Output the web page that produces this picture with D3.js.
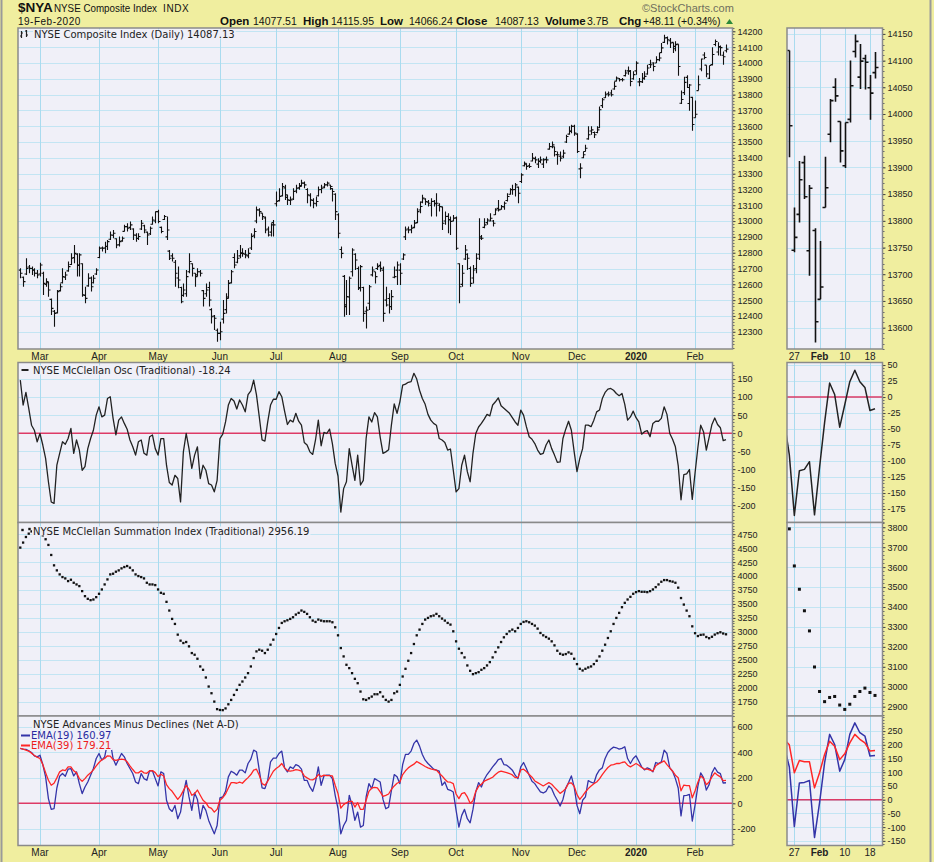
<!DOCTYPE html>
<html lang="en">
<head>
<meta charset="UTF-8">
<title>$NYA NYSE Composite Index</title>
<script src="https://d3js.org/d3.v7.min.js"></script>
<style>
    body { margin: 0; background: #f0ee9f; }
    svg { display: block; }
</style>
</head>
<body>
<svg id="chart" width="934" height="862"></svg>
<script>
// ---- data (20-Feb-2019 .. 19-Feb-2020) ----
var holidays = ['2019-04-19', '2019-05-27', '2019-07-04', '2019-09-02', '2019-11-28',
    '2019-12-25', '2020-01-01', '2020-01-20', '2020-02-17'];

var opens = [12690,12645,12665,12710,12700,12690,12670,12665,12670,12600,
    12610,12505,12430,12420,12560,12610,12645,12685,12725,12770,
    12790,12720,12730,12530,12590,12640,12610,12665,12770,12830,
    12830,12840,12885,12910,12888,12850,12875,12935,12965,12960,
    12950,12910,12890,12950,12970,12930,12920,12980,13000,13060,
    12960,13010,12900,12810,12780,12740,12640,12580,12530,12540,
    12680,12730,12670,12660,12680,12560,12540,12580,12440,12400,
    12310,12290,12380,12440,12520,12610,12770,12740,12780,12800,
    12790,12780,12830,12910,13000,13070,13050,13020,12950,12930,
    12990,13110,13130,13160,13210,13150,13130,13140,13190,13210,
    13225,13240,13200,13160,13130,13110,13160,13200,13215,13230,
    13228,13205,13170,13040,12820,12650,12470,12520,12680,12790,
    12700,12580,12580,12430,12480,12660,12680,12700,12720,12690,
    12500,12510,12460,12645,12690,12690,12760,12900,12950,12945,
    12960,12990,13070,13120,13140,13120,13100,13125,13110,13100,
    13090,13000,13030,13010,13000,13020,12730,12600,12760,12790,
    12700,12640,12700,12790,12900,12960,12990,13000,13000,13040,
    13080,13075,13090,13130,13170,13200,13200,13215,13250,13350,
    13360,13350,13380,13395,13360,13380,13360,13390,13455,13470,
    13470,13420,13410,13410,13500,13550,13570,13600,13550,13330,
    13400,13440,13520,13570,13560,13560,13590,13730,13780,13805,
    13810,13835,13885,13900,13895,13920,13950,13950,13900,13950,
    13880,13880,13900,13930,13990,14000,14000,14020,14065,14130,
    14160,14140,14130,14090,14119,13745,13812,13909,13744,13782,
    13653,13825,13962,14050,13986,13903,13990,14117,14069,14104,
    14049,14077.51];

var highs = [12701,12649,12765,12722,12712,12701,12691,12737,12680,12638,
    12617,12511,12437,12564,12606,12701,12680,12744,12796,12849,
    12796,12796,12733,12585,12670,12649,12659,12701,12839,12839,
    12870,12881,12934,12944,12891,12902,12902,12976,12986,12997,
    12955,12923,12923,13007,12976,12934,12965,13029,13060,13071,
    12965,13039,13029,12817,12796,12754,12712,12585,12606,12691,
    12796,12733,12670,12701,12691,12564,12606,12617,12448,12406,
    12321,12364,12501,12543,12627,12691,12796,12817,12849,12828,
    12817,12828,12923,12955,13092,13081,13050,13029,12965,12986,
    13007,13187,13208,13240,13229,13166,13155,13208,13229,13240,
    13261,13250,13208,13176,13145,13155,13219,13229,13240,13250,
    13229,13208,13176,13050,12839,12659,12627,12649,12828,12796,
    12712,12722,12585,12459,12596,12712,12680,12733,12744,12712,
    12585,12543,12564,12712,12744,12733,12796,12965,12965,12976,
    13007,13081,13124,13166,13145,13134,13145,13134,13176,13113,
    13092,13060,13050,13029,13039,13029,12733,12722,12849,12796,
    12712,12722,12796,13018,12912,13018,13018,13050,13007,13081,
    13134,13102,13124,13176,13208,13229,13240,13219,13303,13377,
    13366,13366,13430,13408,13398,13408,13398,13408,13493,13503,
    13472,13440,13440,13451,13546,13599,13609,13609,13556,13366,
    13440,13482,13599,13599,13567,13599,13725,13778,13820,13820,
    13831,13883,13915,13905,13905,13957,13978,13955,13947,14010,
    13905,13936,13947,13989,14021,14005,14042,14063,14126,14179,
    14168,14158,14130,14137,14119,13825,13912,13922,13867,13786,
    13762,13920,14028,14067,13986,13984,14100,14149,14131,14111,
    14073,14115.95];

var lows = [12638,12585,12659,12670,12659,12649,12638,12649,12533,12585,
    12522,12406,12332,12416,12554,12606,12627,12680,12722,12733,
    12649,12649,12522,12480,12585,12554,12606,12659,12765,12807,
    12796,12817,12881,12891,12828,12839,12870,12934,12934,12944,
    12881,12870,12881,12944,12923,12849,12912,12976,12986,12986,
    12923,13007,12881,12754,12744,12585,12575,12480,12522,12522,
    12670,12649,12585,12649,12649,12459,12522,12459,12353,12311,
    12237,12247,12353,12416,12511,12606,12701,12733,12765,12775,
    12765,12765,12817,12891,12986,13029,13007,12923,12902,12902,
    12902,13092,13124,13155,13134,13102,13102,13134,13176,13198,
    13219,13208,13113,13092,13081,13092,13155,13176,13208,13219,
    13198,13124,13007,12891,12765,12395,12406,12406,12649,12691,
    12564,12554,12364,12321,12437,12649,12606,12691,12680,12364,
    12459,12416,12437,12638,12596,12596,12754,12881,12923,12923,
    12955,12986,13050,13113,13102,13092,13029,13092,13029,13060,
    12944,12976,12923,12912,12997,12817,12480,12585,12754,12691,
    12585,12606,12670,12754,12881,12955,12976,12997,12965,13039,
    13060,13071,13071,13124,13166,13166,13155,13113,13240,13345,
    13324,13335,13377,13366,13335,13366,13335,13366,13451,13461,
    13408,13356,13377,13398,13493,13546,13556,13540,13430,13271,
    13398,13440,13514,13546,13525,13556,13588,13715,13778,13788,
    13788,13831,13883,13883,13883,13915,13926,13852,13894,13926,
    13852,13873,13894,13926,13968,13947,13999,14010,14063,14126,
    14116,14095,14063,14074,13919,13741,13797,13841,13697,13572,
    13653,13825,13947,14023,13909,13899,13984,14106,14047,14046,
    13989,14066.24];

var closes = [12670,12617,12701,12701,12691,12670,12659,12722,12606,12617,
    12564,12448,12416,12554,12585,12649,12659,12712,12765,12796,
    12722,12786,12533,12511,12638,12585,12638,12691,12828,12828,
    12839,12870,12912,12923,12849,12870,12891,12965,12955,12976,
    12912,12891,12902,12986,12944,12912,12955,13007,13060,12997,
    12934,13029,12944,12765,12765,12670,12627,12490,12564,12649,
    12744,12701,12649,12680,12670,12511,12564,12501,12395,12385,
    12290,12300,12416,12511,12606,12680,12722,12765,12796,12796,
    12786,12796,12902,12934,13071,13060,13029,12944,12912,12976,
    12976,13124,13155,13219,13166,13134,13134,13187,13208,13219,
    13240,13229,13166,13134,13113,13124,13198,13208,13229,13240,
    13219,13187,13060,12923,12796,12459,12522,12638,12817,12754,
    12575,12712,12416,12437,12585,12691,12649,12712,12701,12416,
    12469,12459,12522,12649,12722,12670,12786,12944,12944,12955,
    12986,13060,13092,13145,13124,13113,13124,13113,13113,13092,
    12986,13029,13007,12997,13018,12828,12585,12670,12817,12765,
    12606,12691,12765,12891,12891,12976,13007,13018,12986,13071,
    13071,13092,13113,13155,13198,13198,13229,13176,13292,13366,
    13345,13345,13398,13387,13377,13387,13387,13387,13472,13482,
    13440,13419,13398,13430,13535,13567,13599,13556,13440,13335,
    13419,13461,13546,13577,13546,13577,13704,13767,13799,13799,
    13799,13852,13905,13894,13894,13936,13947,13883,13926,13999,
    13883,13905,13915,13968,13989,13978,14021,14031,14095,14158,
    14147,14126,14105,14116,13978,13769,13877,13845,13861,13611,
    13676,13862,14025,14034,13931,13984,14053,14136,14099,14097,
    14039,14087.13];

var mcOsc = [147,78,113,69,22,8,-24,-1,-33,-70,
    -135,-191,-195,-89,-56,-24,-31,-15,13,-56,
    -19,-47,-103,-93,-43,-15,8,50,73,45,
    50,96,101,41,-5,36,45,27,11,-19,
    -38,-61,-24,-19,-56,-61,-10,-5,-43,-61,
    -15,-15,-89,-137,-144,-117,-126,-191,-52,-1,
    -43,-98,-61,-38,-126,-89,-103,-140,-144,-163,
    -131,-15,-3,31,78,96,89,67,92,78,
    59,107,117,147,106,45,-19,-22,31,78,
    94,94,115,101,61,24,36,31,55,33,
    22,-26,-33,-52,-59,-19,36,-35,2,-1,
    11,-29,-84,-119,-219,-154,-135,-43,-89,-131,
    -61,-144,-131,-15,45,31,57,45,-11,-56,
    -52,-46,23,81,55,87,133,136,141,143,
    166,150,119,96,80,52,36,27,22,-15,
    -19,-26,-47,-44,-103,-163,-154,-89,-61,-107,
    -135,-56,-1,17,27,39,52,48,78,87,
    98,76,69,62,55,43,31,22,64,50,
    18,-10,-17,-29,-47,-59,-56,-33,-19,-43,
    -61,-81,-80,-15,11,33,8,-52,-107,-70,
    -43,22,22,18,36,59,64,96,113,122,
    124,119,110,104,110,80,36,45,61,43,
    31,-3,4,7,-10,27,33,33,41,73,
    52,-1,-17,-38,-90,-185,-115,-113,-101,-184,
    -110,-40,22,4,-47,-12,24,42,24,15,
    -21,-18.24];

var mcSum = [4510,4600,4700,4760,4800,4820,4810,4780,4730,4660,
    4558,4378,4192,4102,4030,3982,3958,3910,3934,3880,
    3850,3820,3730,3640,3592,3568,3580,3622,3682,3760,
    3850,3940,4030,4042,4078,4102,4138,4162,4180,4150,
    4102,4030,4000,3982,3958,3880,3850,3850,3838,3760,
    3700,3682,3538,3382,3232,3142,2950,2842,2800,2818,
    2740,2620,2590,2518,2380,2320,2182,2020,1900,1750,
    1615,1600,1597,1628,1702,1780,1870,1960,2050,2110,
    2182,2260,2380,2530,2650,2680,2662,2620,2680,2770,
    2860,2962,3070,3160,3190,3208,3232,3262,3310,3340,
    3382,3358,3322,3262,3202,3178,3220,3202,3190,3190,
    3190,3172,3082,2938,2710,2560,2410,2350,2260,2158,
    2080,1930,1792,1780,1810,1840,1882,1882,1918,1840,
    1780,1750,1780,1900,1930,2050,2200,2338,2482,2620,
    2782,2938,3040,3142,3220,3250,3280,3292,3322,3280,
    3238,3202,3160,3130,3010,2830,2698,2620,2542,2398,
    2302,2242,2260,2278,2320,2350,2398,2458,2542,2638,
    2722,2818,2902,2962,3010,3040,3010,3070,3142,3178,
    3190,3172,3142,3112,3058,2980,2938,2908,2878,2830,
    2758,2662,2608,2590,2602,2632,2608,2518,2422,2338,
    2308,2338,2362,2380,2422,2482,2560,2662,2770,2890,
    3010,3142,3250,3340,3442,3520,3580,3628,3682,3712,
    3730,3718,3718,3712,3730,3760,3802,3850,3898,3928,
    3928,3910,3900,3880,3792,3606,3489,3381,3280,3099,
    2976,2925,2946,2951,2908,2886,2912,2951,2976,2993,
    2971,2956.19];

var ema19 = [429,423,421,410,397,371,363,376,303,207,
    37,-47,-42,120,212,233,212,267,272,214,
    246,154,76,128,167,220,272,350,389,337,
    363,468,481,350,298,345,389,363,311,272,
    233,167,154,233,193,180,256,254,193,136,
    246,233,24,-42,-63,-16,-120,-68,76,180,
    50,-55,81,31,-120,-16,-55,-133,-186,-238,
    -173,42,50,94,207,251,238,220,259,259,
    238,311,345,416,403,259,120,115,180,324,
    353,353,389,408,277,246,285,272,303,293,
    267,180,180,128,94,167,285,141,214,220,
    220,193,63,-42,-238,-173,-133,63,-16,-133,
    -68,-186,-173,50,154,115,193,180,167,31,
    -42,-29,102,225,207,154,303,382,382,408,
    468,494,447,382,337,311,290,267,259,251,
    141,167,110,102,89,-55,-186,-94,-47,-120,
    -152,-47,89,162,128,186,225,254,285,311,
    342,350,303,298,280,259,220,193,285,319,
    272,220,173,154,120,89,81,94,136,115,
    63,24,-21,31,120,162,214,128,-16,-81,
    24,50,178,165,157,225,261,277,350,397,
    423,439,434,423,429,442,350,311,350,371,
    329,285,261,277,267,246,319,311,324,416,
    389,277,251,193,120,-98,61,63,70,-138,
    -12,134,238,201,104,146,238,280,244,232,
    159,160.97];

var ema39 = [429,423,416,408,392,374,361,350,303,240,
    180,141,157,199,246,261,256,285,285,254,
    238,193,173,193,220,238,261,293,319,340,
    350,371,369,342,335,342,345,342,324,293,
    264,238,238,254,238,235,254,256,240,209,
    227,214,146,115,94,63,31,58,99,141,
    110,63,76,104,63,24,5,-29,-39,-68,
    -47,24,44,73,120,162,162,157,165,157,
    180,201,225,259,267,220,154,141,173,212,
    251,272,288,311,277,256,251,256,264,259,
    251,214,199,186,183,196,225,209,220,217,
    217,214,141,76,-37,-10,5,16,16,-29,
    5,-47,-47,24,94,120,125,120,89,55,
    63,73,110,136,157,167,225,254,277,293,
    306,327,314,301,288,277,269,264,259,235,
    214,188,167,165,154,73,37,76,84,50,
    0,21,94,133,149,173,183,193,204,225,
    243,251,246,240,233,222,201,201,261,267,
    248,225,204,175,162,149,136,149,162,149,
    125,102,78,94,115,157,160,133,68,31,
    58,89,115,136,154,167,191,225,254,280,
    298,303,311,311,319,324,298,285,298,311,
    298,280,267,267,259,251,293,308,319,332,
    303,277,251,220,200,98,143,138,138,43,
    98,165,213,195,146,167,207,238,220,207,
    177,179.21];

// axis tick labels
var priceTicks = [12300,12400,12500,12600,12700,12800,12900,13000,13100,13200,
    13300,13400,13500,13600,13700,13800,13900,14000,14100,14200];
var priceSideTicks = [13600,13650,13700,13750,13800,13850,13900,13950,14000,14050,14100,14150];
var oscTicks = [-200,-150,-100,-50,0,50,100,150];
var oscSideTicks = [-175,-150,-125,-100,-75,-50,-25,0,25,50];
var sumTicks = [1750,2000,2250,2500,2750,3000,3250,3500,3750,4000,4250,4500,4750];
var sumSideTicks = [2900,3000,3100,3200,3300,3400,3500,3600,3700,3800];
var adTicks = [-200,0,200,400,600];
var adSideTicks = [-150,-100,-50,0,50,100,150,200,250];
var sideTickDates = ['2020-01-27', '2020-02-03', '2020-02-10', '2020-02-18'];
var sideTickLabels = ['27', 'Feb', '10', '18'];

// ---- layout ----
var AXIS_FONT = 'Liberation Sans, Arial, sans-serif';
var TITLE_FONT = 'DejaVu Sans, Verdana, sans-serif';
var L = 18, R = 732.5, SL = 787, SR = 882.5;
var svg = d3.select('#chart');
var fmtKey = d3.timeFormat('%Y-%m-%d');

svg.append('rect').attr('width', 934).attr('height', 862).attr('fill', '#f0ee9f');

// trading days
var dates = [];
for (var d = new Date(2019, 1, 20); d <= new Date(2020, 1, 19); d.setDate(d.getDate() + 1)) {
    var dow = d.getDay();
    if (dow > 0 && dow < 6 && holidays.indexOf(fmtKey(d)) < 0) dates.push(new Date(d));
}
var n = closes.length;
var idx = d3.range(n);
var sideStart = dates.map(fmtKey).indexOf('2020-01-24');
var sideIdx = d3.range(sideStart, n);

var x = d3.scaleLinear().domain([0, n - 1]).range([20.3, 726]);
var xs = d3.scaleLinear().domain([sideStart, n - 1]).range([789.3, 875]);

var monthIdx = [];
for (var i = 1; i < n; i++) {
    if (dates[i].getMonth() !== dates[i - 1].getMonth()) monthIdx.push(i);
}
var sideTickIdx = sideTickDates.map(function (k) { return dates.map(fmtKey).indexOf(k); });

function px(v) { return Math.round(v) + 0.5; }

// one chart pane: background, grid, clip, right axis
function panel(x0, x1, y, grid, ticks, vlines, clipId) {
    var top = y.range()[1], bot = y.range()[0];
    var g = svg.append('g');
    g.append('rect').attr('x', x0).attr('y', top).attr('width', x1 - x0).attr('height', bot - top)
        .attr('fill', '#f0f0f8');
    g.append('g').selectAll('line').data(grid).join('line')
        .attr('x1', x0).attr('x2', x1)
        .attr('y1', function (v) { return px(y(v)); })
        .attr('y2', function (v) { return px(y(v)); })
        .attr('stroke', '#c3e5f3').attr('stroke-width', 1);
    g.append('g').selectAll('line').data(vlines).join('line')
        .attr('x1', px).attr('x2', px)
        .attr('y1', top).attr('y2', bot)
        .attr('stroke', '#a9dbef').attr('stroke-width', 1);
    svg.append('clipPath').attr('id', clipId).append('rect')
        .attr('x', x0).attr('y', top).attr('width', x1 - x0).attr('height', bot - top);
    var plot = g.append('g').attr('clip-path', 'url(#' + clipId + ')');

    // minor ticks on the right edge
    var step = (ticks[1] - ticks[0]) / 5;
    var dom = y.domain();
    var minor = d3.range(Math.ceil(dom[0] / step) * step, dom[1], step);
    g.append('g').selectAll('line').data(minor).join('line')
        .attr('x1', x1).attr('x2', x1 + 2)
        .attr('y1', function (v) { return px(y(v)); })
        .attr('y2', function (v) { return px(y(v)); })
        .attr('stroke', '#666');

    var ax = g.append('g').attr('transform', 'translate(' + x1 + ',0)')
        .call(d3.axisRight(y).tickValues(ticks).tickSize(3).tickPadding(2)
            .tickFormat(function (v) { return String(v); }));
    ax.select('.domain').remove();
    ax.selectAll('text').attr('font-family', AXIS_FONT).attr('font-size', 9).attr('fill', '#222');
    ax.selectAll('line').attr('stroke', '#444');

    return {
        g: g, plot: plot, frame: function () {
            g.append('rect').attr('x', x0).attr('y', top).attr('width', x1 - x0).attr('height', bot - top)
                .attr('fill', 'none').attr('stroke', '#8a8a8a').attr('stroke-width', 1.5);
        }
    };
}

function zeroLine(p, y, x0, x1) {
    p.plot.append('line').attr('x1', x0).attr('x2', x1)
        .attr('y1', y(0)).attr('y2', y(0))
        .attr('stroke', '#dd3a66').attr('stroke-width', 1.5);
}

function drawOHLC(p, ids, xf, y, tick, w) {
    p.plot.append('g').selectAll('path').data(ids).join('path')
        .attr('d', function (i) {
            var cx = Math.round(xf(i)) + 0.5;
            return 'M' + cx + ',' + y(highs[i]) + 'V' + y(lows[i]) +
                'M' + (cx - tick) + ',' + y(opens[i]) + 'H' + cx +
                'M' + cx + ',' + y(closes[i]) + 'H' + (cx + tick);
        })
        .attr('fill', 'none').attr('stroke', '#111').attr('stroke-width', w);
}

function drawLine(p, ids, xf, y, values, color, w) {
    p.plot.append('path').datum(ids)
        .attr('d', d3.line().x(function (i) { return xf(i); }).y(function (i) { return y(values[i]); }))
        .attr('fill', 'none').attr('stroke', color).attr('stroke-width', w)
        .attr('stroke-linejoin', 'round');
}

function drawDots(p, ids, xf, y, values, s) {
    p.plot.append('g').selectAll('rect').data(ids).join('rect')
        .attr('x', function (i) { return xf(i) - s / 2; })
        .attr('y', function (i) { return y(values[i]) - s / 2; })
        .attr('width', s).attr('height', s).attr('fill', '#111');
}

// title text with opaque backing like the original labels
function title(p, tx, ty, text, color, size) {
    var t = p.g.append('text').attr('x', tx).attr('y', ty)
        .attr('font-family', TITLE_FONT).attr('font-size', size || 10)
        .attr('fill', color || '#222').text(text);
    var b = t.node().getBBox();
    p.g.insert('rect', function () { return t.node(); })
        .attr('x', b.x - 1).attr('y', b.y + 1).attr('width', b.width + 2).attr('height', b.height - 2)
        .attr('fill', '#f0f0f8');
    return t;
}

var monthX = monthIdx.map(function (i) { return x(i); });
var sideX = sideTickIdx.map(function (i) { return xs(i); });

// ---- price ----
var yP = d3.scaleLinear().domain([12191, 14221]).range([349, 28]);
var yPs = d3.scaleLinear().domain([13560, 14161]).range([349, 28]);
var pP = panel(L, R, yP, priceTicks, priceTicks, monthX, 'cP');
drawOHLC(pP, idx, x, yP, 2, 1.1);
title(pP, 34, 37.5, 'NYSE Composite Index (Daily) 14087.13');
pP.g.append('path').attr('d', 'M21.5,31V38M20,36H21.5M21.5,33H23M26.5,30V37M25,31H26.5M26.5,35H28')
    .attr('stroke', '#222').attr('fill', 'none').attr('stroke-width', 1.2);
pP.frame();
var pPs = panel(SL, SR, yPs, priceSideTicks, priceSideTicks, sideX, 'cPs');
drawOHLC(pPs, sideIdx, xs, yPs, 3, 1.6);
pPs.frame();

// ---- McClellan oscillator ----
var yO = d3.scaleLinear().domain([-248, 196]).range([522.5, 362.5]);
var yOs = d3.scaleLinear().domain([-196, 54]).range([522.5, 362.5]);
var pO = panel(L, R, yO, oscTicks, oscTicks, monthX, 'cO');
zeroLine(pO, yO, L, R);
drawLine(pO, idx, x, yO, mcOsc, '#222', 1.3);
title(pO, 33, 373.5, 'NYSE McClellan Osc (Traditional) -18.24');
pO.g.append('line').attr('x1', 21.5).attr('x2', 28.5).attr('y1', 370).attr('y2', 370)
    .attr('stroke', '#222').attr('stroke-width', 2);
pO.frame();
var pOs = panel(SL, SR, yOs, oscSideTicks, oscSideTicks, sideX, 'cOs');
zeroLine(pOs, yOs, SL, SR);
drawLine(pOs, d3.range(sideStart - 1, n), xs, yOs, mcOsc, '#222', 1.5);
pOs.frame();

// ---- McClellan summation ----
var yS = d3.scaleLinear().domain([1492, 4960]).range([716, 522.5]);
var ySs = d3.scaleLinear().domain([2853, 3824]).range([716, 522.5]);
var pS = panel(L, R, yS, sumTicks, sumTicks, monthX, 'cS');
drawDots(pS, idx, x, yS, mcSum, 2.3);
title(pS, 33, 534.5, 'NYSE McClellan Summation Index (Traditional) 2956.19');
pS.g.selectAll('.lg').data([[22.5, 530], [29.5, 529]]).join('rect')
    .attr('x', function (p) { return p[0] - 1.2; }).attr('y', function (p) { return p[1] - 1.2; })
    .attr('width', 2.4).attr('height', 2.4).attr('fill', '#111');
pS.frame();
var pSs = panel(SL, SR, ySs, sumSideTicks, sumSideTicks, sideX, 'cSs');
drawDots(pSs, sideIdx, xs, ySs, mcSum, 3);
pSs.frame();

// ---- Net A-D with EMAs ----
var yA = d3.scaleLinear().domain([-329, 682]).range([845.5, 716]);
var yAs = d3.scaleLinear().domain([-167, 305]).range([845.5, 716]);
var pA = panel(L, R, yA, adTicks, adTicks, monthX, 'cA');
zeroLine(pA, yA, L, R);
drawLine(pA, idx, x, yA, ema19, '#3434a8', 1.3);
drawLine(pA, idx, x, yA, ema39, '#ff2626', 1.3);
title(pA, 33, 728, 'NYSE Advances Minus Declines (Net A-D)');
title(pA, 31, 739, 'EMA(19) 160.97', '#2a2aa0');
title(pA, 31, 749, 'EMA(39) 179.21', '#ee1c1c');
pA.g.append('line').attr('x1', 21).attr('x2', 30).attr('y1', 735.5).attr('y2', 735.5)
    .attr('stroke', '#3434a8').attr('stroke-width', 2);
pA.g.append('line').attr('x1', 21).attr('x2', 30).attr('y1', 745.5).attr('y2', 745.5)
    .attr('stroke', '#ff2626').attr('stroke-width', 2);
pA.frame();
var pAs = panel(SL, SR, yAs, adSideTicks, adSideTicks, sideX, 'cAs');
zeroLine(pAs, yAs, SL, SR);
drawLine(pAs, d3.range(sideStart - 1, n), xs, yAs, ema19, '#3434a8', 1.5);
drawLine(pAs, d3.range(sideStart - 1, n), xs, yAs, ema39, '#ff2626', 1.5);
pAs.frame();

// ---- date labels ----
function monthLabel(i) {
    return dates[i].getMonth() === 0 ? d3.timeFormat('%Y')(dates[i]) : d3.timeFormat('%b')(dates[i]);
}
[359.5, 856].forEach(function (by) {
    svg.append('g').selectAll('text').data(monthIdx).join('text')
        .attr('x', function (i) { return x(i); }).attr('y', by)
        .attr('text-anchor', 'middle').attr('font-family', AXIS_FONT).attr('font-size', 10)
        .attr('font-weight', function (i) { return dates[i].getMonth() === 0 ? 'bold' : 'normal'; })
        .attr('fill', '#222').text(monthLabel);
    svg.append('g').selectAll('text').data(sideTickIdx).join('text')
        .attr('x', function (i) { return xs(i); }).attr('y', by)
        .attr('text-anchor', 'middle').attr('font-family', AXIS_FONT).attr('font-size', 10)
        .attr('font-weight', function (i, k) { return sideTickLabels[k] === 'Feb' ? 'bold' : 'normal'; })
        .attr('fill', '#222').text(function (i, k) { return sideTickLabels[k]; });
});

// ---- header ----
var hdr = svg.append('g').attr('font-family', AXIS_FONT).attr('fill', '#111');
hdr.append('text').attr('x', 18).attr('y', 12).attr('font-size', 13.5).attr('font-weight', 'bold').text('$NYA');
hdr.append('text').attr('x', 54).attr('y', 11.5).attr('font-size', 10.5)
    .attr('textLength', 103).attr('lengthAdjust', 'spacingAndGlyphs').text('NYSE Composite Index');
hdr.append('text').attr('x', 163).attr('y', 11.5).attr('font-size', 10).attr('letter-spacing', 0.6).text('INDX');
hdr.append('text').attr('x', 18).attr('y', 24.5).attr('font-size', 10).attr('letter-spacing', 0.5).text('19-Feb-2020');
[['Open', 220, true], ['14077.51', 253], ['High', 303, true], ['14115.95', 331],
    ['Low', 380, true], ['14066.24', 409], ['Close', 456, true], ['14087.13', 495],
    ['Volume', 545, true], ['3.7B', 587], ['Chg', 619, true], ['+48.11 (+0.34%)', 643]]
    .forEach(function (h) {
        hdr.append('text').attr('x', h[1]).attr('y', 24.5).attr('font-size', h[2] ? 11.5 : 10.5)
            .attr('font-weight', h[2] ? 'bold' : 'normal').text(h[0]);
    });
hdr.append('path').attr('d', 'M726,24L733,24L729.5,19Z').attr('fill', '#2d8a3a');
hdr.append('text').attr('x', 642).attr('y', 11.5).attr('font-size', 11).attr('fill', '#6f6f5e')
    .text('\u00A9StockCharts.com');

// outer frame
svg.append('line').attr('x1', 1.5).attr('x2', 1.5).attr('y1', 0).attr('y2', 862).attr('stroke', '#9a9a9a').attr('stroke-width', 2);
svg.append('line').attr('x1', 930.5).attr('x2', 930.5).attr('y1', 0).attr('y2', 862).attr('stroke', '#9a9a9a').attr('stroke-width', 2);
</script>
</body>
</html>
